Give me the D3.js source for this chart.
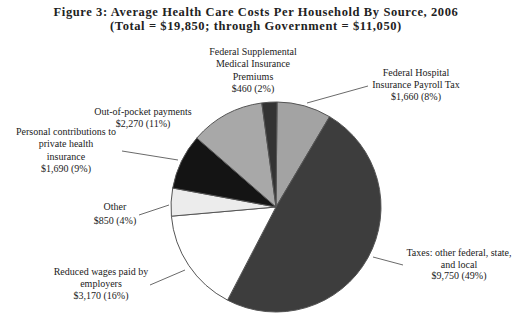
<!DOCTYPE html>
<html>
<head>
<meta charset="utf-8">
<script src="https://cdn.jsdelivr.net/npm/d3@7"></script>
<style>
  body { margin: 0; background: #fff; }
  svg text { font-family: "Liberation Serif", "DejaVu Serif", serif; fill: #222; }
</style>
</head>
<body>
<svg id="chart" width="513" height="313"></svg>
<script>
// slices, clockwise from 12 o'clock
const sources = ["Federal Hospital Insurance Payroll Tax", "Taxes: other federal, state, and local",
  "Reduced wages paid by employers", "Other", "Personal contributions to private health insurance",
  "Out-of-pocket payments", "Federal Supplemental Medical Insurance Premiums"];
const amounts = [1660, 9750, 3170, 850, 1690, 2270, 460];
const fills = ["#a3a3a3", "#3d3d3d", "#ffffff", "#ececec", "#141414", "#a8a8a8", "#333333"];
const labelLines = [
  ["Federal Hospital", "Insurance Payroll Tax", "$1,660 (8%)"],
  ["Taxes: other federal, state,", "and local", "$9,750 (49%)"],
  ["Reduced wages paid by", "employers", "$3,170 (16%)"],
  ["Other", "$850 (4%)"],
  ["Personal contributions to", "private health", "insurance", "$1,690 (9%)"],
  ["Out-of-pocket payments", "$2,270 (11%)"],
  ["Federal Supplemental", "Medical Insurance", "Premiums", "$460 (2%)"]
];
const titleLines = ["Figure 3: Average Health Care Costs Per Household By Source, 2006",
  "(Total = $19,850; through Government = $11,050)"];

const svg = d3.select("#chart");
const cx = 276, cy = 207, r = 105;

// title
svg.selectAll(".title")
  .data(titleLines)
  .enter().append("text")
    .attr("class", "title")
    .attr("x", 256)
    .attr("y", (d, i) => 16 + i * 14)
    .attr("text-anchor", "middle")
    .attr("font-size", "12.5px")
    .attr("font-weight", "bold")
    .attr("letter-spacing", "0.6px")
    .text(d => d);

const data = sources.map((s, i) => ({source: s, amount: amounts[i], fill: fills[i], lines: labelLines[i]}));

const pie = d3.pie().sort(null).value(d => d.amount).startAngle(0.01).endAngle(0.01 + 2 * Math.PI);
const arc = d3.arc().innerRadius(0).outerRadius(r);

const g = svg.append("g").attr("transform", "translate(" + cx + "," + cy + ")");
g.selectAll("path")
  .data(pie(data))
  .enter().append("path")
    .attr("d", arc)
    .style("fill", d => d.data.fill)
    .style("stroke", "#555")
    .style("stroke-width", "1px");

// label placement (text centre, first baseline, line gap) and leader lines
const labelPos = [
  {x: 416, y: 76, dy: 12, line: [[307, 103], [368, 86]]},
  {x: 459, y: 256, dy: 11.5, line: [[373, 257], [403, 265]]},
  {x: 101, y: 275, dy: 12, line: [[150, 285], [185, 270]]},
  {x: 115, y: 210, dy: 14, line: [[139, 215], [169, 205]]},
  {x: 66, y: 135, dy: 12.3, line: [[122, 151], [178, 160]]},
  {x: 143, y: 115, dy: 11.5, line: null},
  {x: 253, y: 55, dy: 12.3, line: null}
];

data.forEach((d, i) => {
  const p = labelPos[i];
  svg.append("g").selectAll("text")
    .data(d.lines)
    .enter().append("text")
      .attr("x", p.x)
      .attr("y", (t, j) => p.y + j * p.dy)
      .attr("text-anchor", "middle")
      .attr("font-size", "10px")
      .text(t => t);
  if (p.line) {
    svg.append("path")
      .attr("d", d3.line()(p.line))
      .style("fill", "none")
      .style("stroke", "#444")
      .style("stroke-width", "0.8px");
  }
});
</script>
</body>
</html>
